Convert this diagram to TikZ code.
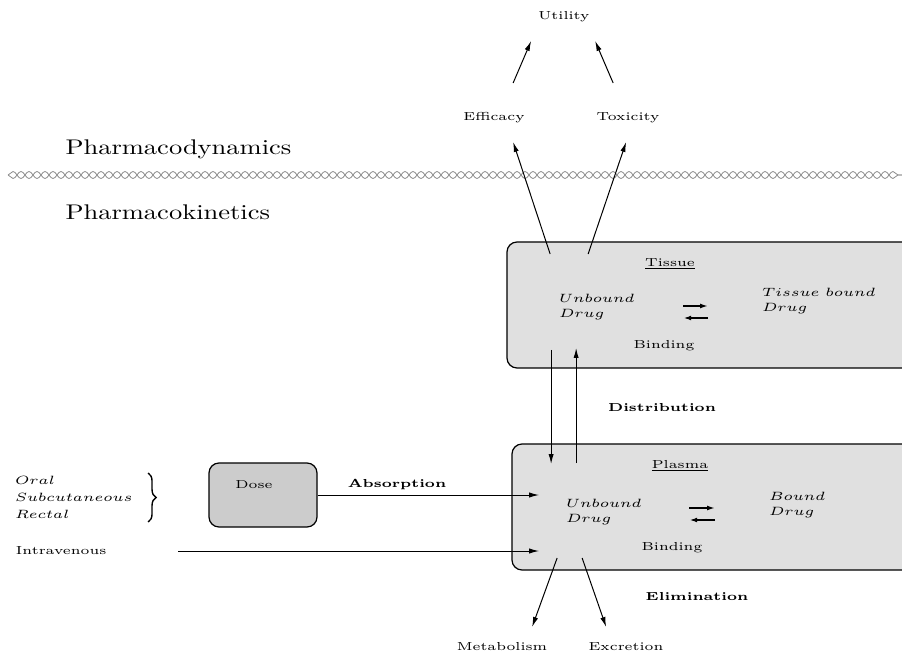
\documentclass[tikz,border=0pt]{standalone}
\usepackage{amsmath}
\usepackage{xcolor}
\usepackage{tikz}
\usetikzlibrary{positioning,arrows.meta,decorations.pathmorphing,decorations.pathreplacing}
\definecolor{boxgray}{HTML}{E0E0E0}
\definecolor{dosegray}{HTML}{CCCCCC}
\definecolor{wave}{HTML}{8C8C8C}

\begin{document}
\begin{tikzpicture}[
  x=0.4pt, y=-0.5pt, xscale=1.25,
  txt/.style={transform shape, font=\fontsize{5.8}{7}\selectfont, inner sep=1pt},
  mth/.style={txt, font=\fontsize{6}{7.6}\selectfont, align=left, anchor=west},
  head/.style={transform shape, font=\fontsize{10.6}{12}\selectfont, anchor=base west, inner sep=0pt},
  proc/.style={txt, font=\fontsize{5.8}{7}\selectfont\bfseries},
  comp/.style={draw, fill=boxgray, line width=0.6pt, rounded corners=5pt,
               minimum width=211.5pt, minimum height=63pt},
  dosebox/.style={draw, fill=dosegray, line width=0.6pt, rounded corners=5pt,
                  minimum width=54pt, minimum height=32pt},
  ar/.style={-{Latex[length=5pt,width=2.6pt]}, line width=0.5pt},
  bnd/.style={-{Latex[length=4pt,width=2.4pt]}, line width=0.8pt},
  wv/.style={draw=wave, line width=0.4pt, decorate,
             decoration={snake, amplitude=1.75pt, segment length=8pt}},
  wvm/.style={draw=wave, line width=0.4pt, decorate,
              decoration={snake, amplitude=1.75pt, segment length=8pt, mirror}},
  brc/.style={decorate, decoration={brace, amplitude=4pt}, line width=0.7pt}
]
\clip (0,0) rectangle (902,656);

\node[txt] (util) at (564,17)  {Utility};
\node[txt] (eff)  at (494,118) {Efficacy};
\node[txt] (tox)  at (628,118) {Toxicity};
\coordinate (effup) at (513,83);
\coordinate (utl)   at (531,41);
\coordinate (toxup) at (613,83);
\coordinate (utr)   at (595,41);
\draw[ar] (effup) -- (utl);
\draw[ar] (toxup) -- (utr);

\node[head] (pd) at (65,155) {Pharmacodynamics};
\node[head] (pk) at (65,220) {Pharmacokinetics};
\coordinate (wl) at (8,175);
\coordinate (wr) at (902,175);
\draw[wv]  (wl) -- (wr);
\draw[wvm] (wl) -- (wr);

\node[comp] (tissue) at (718.5,305) {};
\node[txt] (tlab)  at (670,264) {\underline{Tissue}};
\node[mth] (tub)   at (556,307) {$Unbound$\\$Drug$};
\node[mth] (tbd)   at (759,301) {$Tissue\ bound$\\$Drug$};
\node[txt] (tbind) at (664,346) {Binding};
\coordinate (tbl) at (683,306);
\coordinate (tbr) at (708,306);
\coordinate (tbl2) at (683,318);
\coordinate (tbr2) at (708,318);
\draw[bnd] (tbl) -- (tbr);
\draw[bnd] (tbr2) -- (tbl2);

\coordinate (teff) at (550,254);
\coordinate (ttox) at (588,254);
\coordinate (effdn) at (513,142);
\coordinate (toxdn) at (626,142);
\draw[ar] (teff) -- (effdn);
\draw[ar] (ttox) -- (toxdn);

\node[comp] (plasma) at (723.5,507) {};
\node[txt] (plab)  at (680,466) {\underline{Plasma}};
\node[mth] (pub)   at (563,512) {$Unbound$\\$Drug$};
\node[mth] (pbd)   at (766,505) {$Bound$\\$Drug$};
\node[txt] (pbind) at (672,548) {Binding};
\coordinate (pbl) at (689,508);
\coordinate (pbr) at (715,508);
\coordinate (pbl2) at (689,520);
\coordinate (pbr2) at (715,520);
\draw[bnd] (pbl) -- (pbr);
\draw[bnd] (pbr2) -- (pbl2);

\coordinate (tdn) at (551,350);
\coordinate (pdn) at (551,464);
\coordinate (pup) at (576,463);
\coordinate (tup) at (576,348);
\draw[ar] (tdn) -- (pdn);
\draw[ar] (pup) -- (tup);
\node[proc] (dist) at (662,408) {Distribution};

\node[mth, font=\fontsize{6}{8.5}\selectfont] (routes) at (12,497) {$Oral$\\$Subcutaneous$\\$Rectal$};
\coordinate (brtop) at (148,473);
\coordinate (brbot) at (148,522);
\draw[brc] (brtop) -- (brbot);

\node[dosebox] (dose) at (263,495) {};
\node[txt] (dlab) at (254,485) {Dose};
\coordinate (pabs) at (539,495);
\draw[ar] (dose.east) -- (pabs);
\node[proc] (absn) at (397,485) {Absorption};

\node[txt, anchor=west] (iv) at (13,551) {Intravenous};
\coordinate (ivs) at (178,551);
\coordinate (piv) at (539,551);
\draw[ar] (ivs) -- (piv);

\coordinate (pmet) at (557,558);
\coordinate (pexc) at (582,558);
\coordinate (metup) at (532,627);
\coordinate (excup) at (606,627);
\draw[ar] (pmet) -- (metup);
\draw[ar] (pexc) -- (excup);
\node[proc] (elim)  at (697,597) {Elimination};
\node[txt]  (metab) at (502,647) {Metabolism};
\node[txt]  (excr)  at (626,647) {Excretion};
\end{tikzpicture}
\end{document}
